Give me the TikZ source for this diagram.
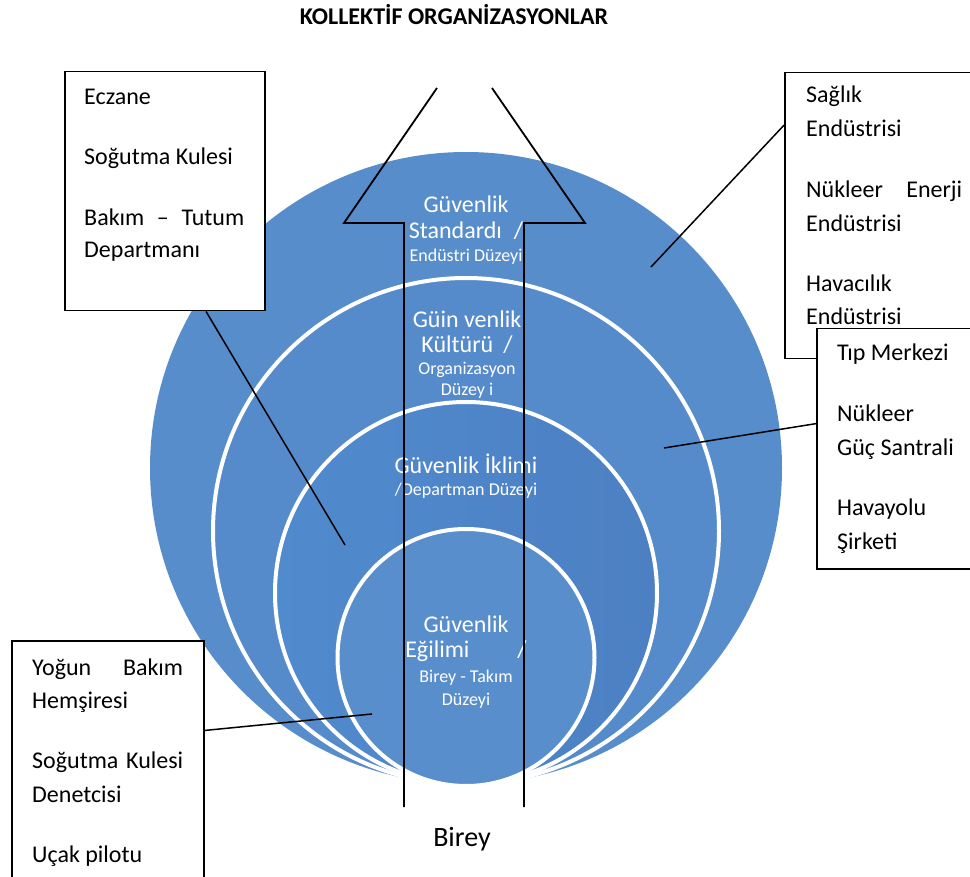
\documentclass[tikz,border=0pt]{standalone}
\usepackage{fontspec}
\setmainfont{Carlito}
\usetikzlibrary{calc}
\definecolor{circA}{RGB}{88,141,203}
\definecolor{circB}{RGB}{86,139,203}
\definecolor{circCl}{RGB}{80,139,206}
\definecolor{circCr}{RGB}{76,128,195}
\definecolor{circD}{RGB}{89,142,204}
\begin{document}
\begin{tikzpicture}[x=1pt,y=-1pt,
  box/.style={draw=black, line width=1.5pt, fill=white, inner sep=0pt, anchor=north west},
  boxline/.style={font=\fontsize{24}{30}\selectfont, anchor=base west, inner sep=0pt, text=black},
  big/.style={font=\fontsize{24}{30}\selectfont, text=white, anchor=base, inner sep=0pt},
  small/.style={font=\fontsize{18}{22}\selectfont, text=white, anchor=base, inner sep=0pt},
  ring/.style={draw=white, line width=4pt},
  link/.style={draw=black, line width=1.5pt},
  arrowline/.style={draw=black, line width=1.8pt, line join=miter}]
\useasboundingbox (0,0) rectangle (970,877);
\clip (0,0) rectangle (970,877);

% title
\node[font=\fontsize{24}{30}\selectfont\bfseries, anchor=base, inner sep=0pt] (title) at (454,25) {KOLLEKTİF ORGANİZASYONLAR};

% circles
\fill[circA] (466,468) circle[radius=316pt];
\path[ring, fill=circB] (466,531) circle[radius=253pt];
\path[ring, left color=circCl, right color=circCr] (466,593) circle[radius=191pt];
\path[ring, fill=circD] (466,657.5) circle[radius=128.5pt];

% circle texts
\node[big] (o1) at (466,213) {Güvenlik};
\node[big] (o2) at (466,239) {Standardı\hspace{12pt}/};
\node[small] (o3) at (466,262) {Endüstri Düzeyi};
\node[big] (s1) at (467,328) {Güin venlik};
\node[big] (s2) at (467,353) {Kültürü\hspace{10pt}/};
\node[small] (s3) at (467,375) {Organizasyon};
\node[small] (s4) at (467,396) {Düzey i};
\node[big] (t1) at (466,473) {Güvenlik İklimi};
\node[small] (t2) at (466,495) {/Departman Düzeyi};
\node[big] (i1) at (466,632) {Güvenlik};
\node[big] (i2) at (466,657) {Eğilimi\hspace{48pt}/};
\node[small] (i3) at (466,682) {Birey - Takım};
\node[small] (i4) at (466,705) {Düzeyi};

% arrow
\coordinate (al0) at (404,807);
\coordinate (al1) at (404,223);
\coordinate (al2) at (344,223);
\coordinate (al3) at (437,88);
\coordinate (ar3) at (492,88);
\coordinate (ar2) at (585,223);
\coordinate (ar1) at (524,223);
\coordinate (ar0) at (524,807);
\draw[arrowline] (al0) -- (al1) -- (al2) -- (al3);
\draw[arrowline] (ar3) -- (ar2) -- (ar1) -- (ar0);

\node[font=\fontsize{28}{34}\selectfont, anchor=base, inner sep=0pt] (birey) at (462,846) {Birey};

% connector end points
\coordinate (e1) at (345,545);
\coordinate (e2) at (651,267);
\coordinate (e3) at (664,448);
\coordinate (e4) at (372,714);

% boxes
\node[box, minimum width=200pt, minimum height=239pt] (b1) at (64,71) {};
\node[box, minimum width=200pt, minimum height=286pt] (b2) at (784,72) {};
\node[box, minimum width=192pt, minimum height=260pt] (b4) at (11,640) {};

% connectors
\draw[link] ($(b1.south west)!0.705!(b1.south east)$) -- (e1);
\draw[link] ($(b2.north west)!0.185!(b2.south west)$) -- (e2);
\draw[link] ($(b4.north east)!0.346!(b4.south east)$) -- (e4);

% box texts
\foreach \yy/\lbl [count=\i] in {105/Eczane, 165/Soğutma Kulesi, 226/{\makebox[160pt][s]{Bakım – Tutum}}, 258/Departmanı}
  \node[boxline] (b1l\i) at (84,\yy) {\lbl};
\foreach \yy/\lbl [count=\i] in {103/Sağlık, 137/Endüstrisi, 198/{\makebox[156pt][s]{Nükleer Enerji}}, 232/Endüstrisi, 292/Havacılık, 325/Endüstrisi}
  \node[boxline] (b2l\i) at (806,\yy) {\lbl};
\node[box, minimum width=170pt, minimum height=240pt] (b3) at (816,328) {};
\draw[link] ($(b3.north west)!0.396!(b3.south west)$) -- (e3);
\foreach \yy/\lbl [count=\i] in {361/Tıp Merkezi, 422/Nükleer, 455/Güç Santrali, 515/Havayolu, 549/Şirketi}
  \node[boxline] (b3l\i) at (837,\yy) {\lbl};
\foreach \yy/\lbl [count=\i] in {675/{\makebox[151pt][s]{Yoğun Bakım}}, 708/Hemşiresi, 768/{\makebox[151pt][s]{Soğutma Kulesi}}, 802/Denetcisi, 862/Uçak pilotu}
  \node[boxline] (b4l\i) at (32,\yy) {\lbl};
\end{tikzpicture}
\end{document}
